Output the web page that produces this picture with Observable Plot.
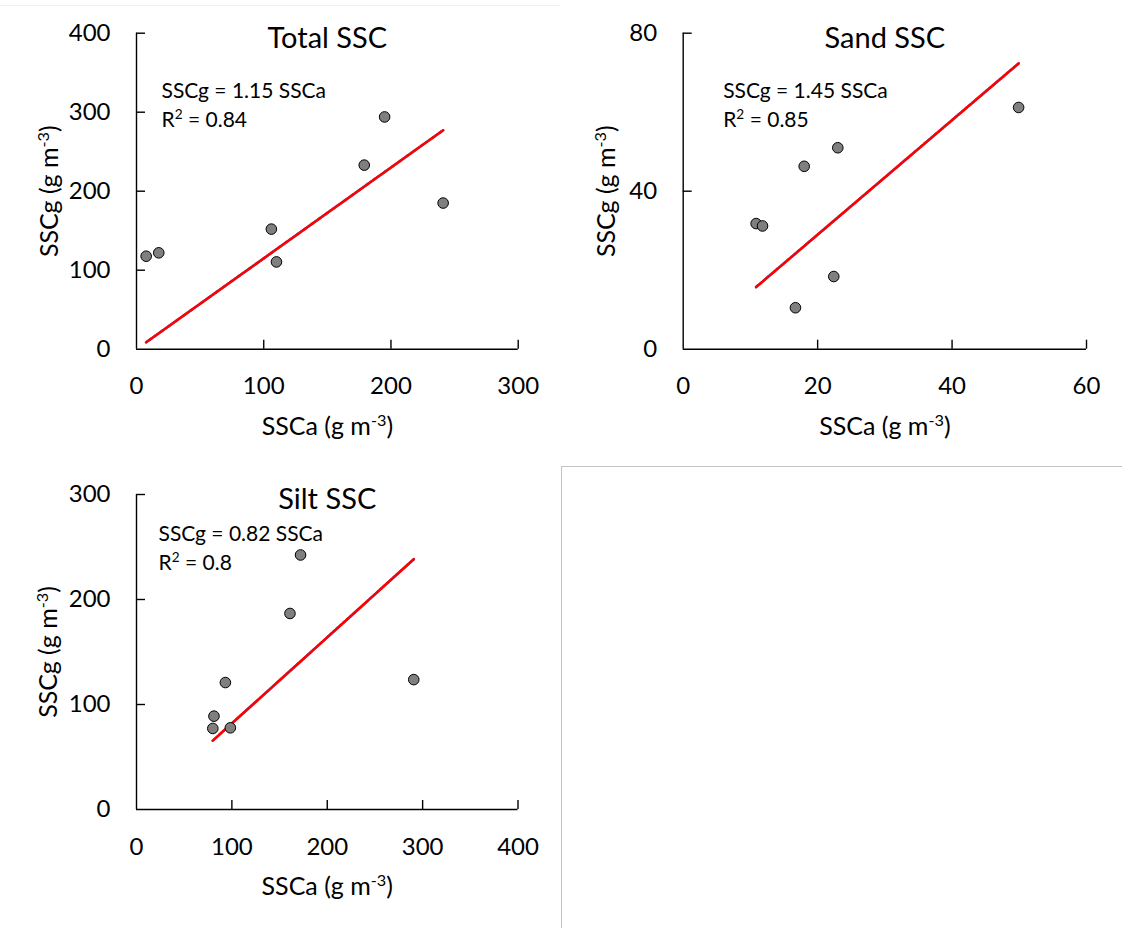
<!DOCTYPE html>
<html>
<head>
<meta charset="utf-8">
<script src="https://cdn.jsdelivr.net/npm/d3@7"></script>
<script src="https://cdn.jsdelivr.net/npm/@observablehq/plot@0.6"></script>
<style>
  html, body { margin: 0; padding: 0; background: #fff; }
  #wrap { position: relative; width: 1122px; height: 928px; overflow: hidden; background: #fff; font-family: Lato, sans-serif; }
  .panel { position: absolute; }
  .rule { position: absolute; background: #c4c4c4; }
</style>
</head>
<body>
<div id="wrap">
  <div class="rule" style="left:0;top:5px;width:560px;height:1px;background:#f0f0f0"></div>
  <div class="rule" style="left:561px;top:466px;width:561px;height:1px"></div>
  <div class="rule" style="left:561px;top:466px;width:1px;height:462px"></div>
  <div class="panel" id="p1" style="left:0;top:0"></div>
  <div class="panel" id="p2" style="left:561px;top:0"></div>
  <div class="panel" id="p3" style="left:0;top:460px"></div>
</div>
<script>
// ---- data ----
const totalSSCa = [7.6, 17.5, 106, 110, 179, 195, 241];
const totalSSCg = [117.7, 122, 152, 110.5, 233, 294, 185];
const totalSlope = 1.15, totalR2 = "0.84";
const totalXTicks = [0, 100, 200, 300];
const totalYTicks = [0, 100, 200, 300, 400];

const sandSSCa = [10.85, 11.8, 16.7, 18.0, 22.4, 23.0, 49.9];
const sandSSCg = [31.8, 31.2, 10.5, 46.3, 18.4, 51.0, 61.2];
const sandSlope = 1.45, sandR2 = "0.85";
const sandXTicks = [0, 20, 40, 60];
const sandYTicks = [0, 40, 80];

const siltSSCa = [80, 81.2, 93.2, 98.4, 160.9, 172, 290.7];
const siltSSCg = [77.2, 88.9, 120.9, 77.8, 186.7, 242.4, 123.7];
const siltSlope = 0.82, siltR2 = "0.8";
const siltXTicks = [0, 100, 200, 300, 400];
const siltYTicks = [0, 100, 200, 300];

const xTitle = "SSCa (g m^{-3})";
const yTitle = "SSCg (g m^{-3})";

function supify(svg) {
  d3.select(svg).selectAll("text").each(function () {
    const t = this.textContent;
    if (!t.includes("^{")) return;
    const parts = t.split(/(\^\{[^}]*\})/);
    const sel = d3.select(this);
    sel.text(null);
    for (const p of parts) {
      if (!p) continue;
      if (p.startsWith("^{")) {
        sel.append("tspan").attr("baseline-shift", "super").attr("font-size", "65%").text(p.slice(2, -1));
      } else {
        sel.append("tspan").text(p);
      }
    }
  });
}

function panel(el, cfg) {
  const pts = cfg.xs.map((x, i) => ({x, y: cfg.ys[i]}));
  const x0 = d3.min(cfg.xs), x1 = d3.max(cfg.xs);
  const fit = [{x: x0, y: cfg.slope * x0}, {x: x1, y: cfg.slope * x1}];
  const xs0 = cfg.xDomain[0], ys0 = cfg.yDomain[0];
  const svg = Plot.plot({
    width: cfg.width, height: cfg.height,
    marginLeft: cfg.ml, marginRight: cfg.mr, marginTop: cfg.mt, marginBottom: cfg.mb,
    style: {fontFamily: "Lato, sans-serif", color: "#000", background: "transparent", overflow: "visible"},
    x: {domain: cfg.xDomain},
    y: {domain: cfg.yDomain},
    marks: [
      Plot.ruleY([ys0], {stroke: "#000", strokeWidth: 1.4}),
      Plot.ruleX([xs0], {stroke: "#000", strokeWidth: 1.4}),
      // inward tick marks
      Plot.ruleX(cfg.xTicks.filter(d => d !== xs0), {x: d => d, y1: ys0, y2: ys0, insetBottom: 9, stroke: "#000", strokeWidth: 1.4}),
      Plot.ruleY(cfg.yTicks.filter(d => d !== ys0), {y: d => d, x1: xs0, x2: xs0, insetRight: -9, stroke: "#000", strokeWidth: 1.4}),
      Plot.axisX({ticks: cfg.xTicks, tickSize: 0, tickPadding: 28, fontSize: 24, label: null, tickFormat: d => String(d)}),
      Plot.axisY({ticks: cfg.yTicks, tickSize: 0, tickPadding: 26, fontSize: 24, label: null, tickFormat: d => String(d)}),
      Plot.line(fit, {x: "x", y: "y", stroke: "#4472C4", strokeWidth: 2.6}),
      Plot.line(fit, {x: "x", y: "y", stroke: "#FF0000", strokeWidth: 2.6, strokeDasharray: "3,1.5"}),
      Plot.dot(pts, {x: "x", y: "y", r: 5.3, fill: "#7f7f7f", stroke: "#000", strokeWidth: 1}),
      Plot.text([cfg.title], {frameAnchor: "top", textAnchor: "middle", lineAnchor: "top", dy: -6, fontSize: 29, fill: "#000"}),
      Plot.text([`SSCg = ${cfg.slope.toFixed(2)} SSCa`], {frameAnchor: "top-left", textAnchor: "start", lineAnchor: "top", dx: cfg.eqDx, dy: cfg.eqDy, fontSize: 21, fill: "#000"}),
      Plot.text([`R^{2} = ${cfg.r2}`], {frameAnchor: "top-left", textAnchor: "start", lineAnchor: "top", dx: cfg.eqDx, dy: cfg.eqDy + 29, fontSize: 21, fill: "#000"}),
      Plot.text([xTitle], {frameAnchor: "bottom", textAnchor: "middle", lineAnchor: "top", dy: 68, fontSize: 25, fill: "#000"}),
      Plot.text([yTitle], {frameAnchor: "left", textAnchor: "middle", lineAnchor: "middle", rotate: -90, dx: cfg.yTitleDx, fontSize: 25, fill: "#000"})
    ]
  });
  supify(svg);
  document.getElementById(el).appendChild(svg);
}

panel("p1", {
  xs: totalSSCa, ys: totalSSCg, slope: totalSlope, r2: totalR2, title: "Total SSC",
  xDomain: [0, 300], yDomain: [0, 400], xTicks: totalXTicks, yTicks: totalYTicks,
  width: 561, height: 460, ml: 136, mr: 43.3, mt: 32.7, mb: 111.3,
  eqDx: 25, eqDy: 50, yTitleDx: -87
});
panel("p2", {
  xs: sandSSCa, ys: sandSSCg, slope: sandSlope, r2: sandR2, title: "Sand SSC",
  xDomain: [0, 60], yDomain: [0, 80], xTicks: sandXTicks, yTicks: sandYTicks,
  width: 561, height: 460, ml: 121.7, mr: 36, mt: 32.7, mb: 111.3,
  eqDx: 40, eqDy: 50, yTitleDx: -76
});
panel("p3", {
  xs: siltSSCa, ys: siltSSCg, slope: siltSlope, r2: siltR2, title: "Silt SSC",
  xDomain: [0, 400], yDomain: [0, 300], xTicks: siltXTicks, yTicks: siltYTicks,
  width: 561, height: 468, ml: 136, mr: 43.5, mt: 34, mb: 119,
  eqDx: 22, eqDy: 32, yTitleDx: -88
});
</script>
</body>
</html>
